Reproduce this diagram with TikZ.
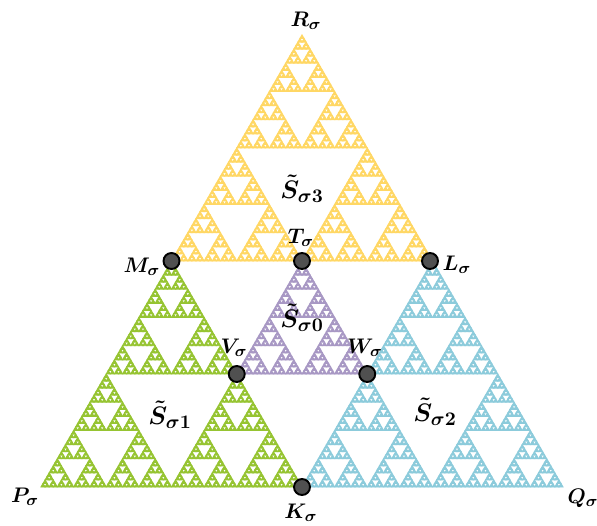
\documentclass[tikz,border=0pt]{standalone}
\usepackage{amsmath,amssymb}
\usepackage{bm}
\usepackage{xcolor}
\usepackage{tikz}
\usetikzlibrary{calc}

\definecolor{gasketyellow}{RGB}{255,215,100}
\definecolor{gasketgreen}{RGB}{150,196,50}
\definecolor{gasketcyan}{RGB}{140,203,219}
\definecolor{gasketpurple}{RGB}{168,152,196}
\definecolor{dotgray}{RGB}{80,80,80}

% depth, x, y (lower left corner), side
\newcommand{\sgasket}[4]{%
  \ifnum#1=0
    \filldraw (#2,#3) -- ({#2+#4},#3) -- ({#2+#4/2},{#3+0.8660254*#4}) -- cycle;
  \else
    \begingroup
      \pgfmathtruncatemacro\gdepth{#1-1}%
      \pgfmathsetmacro\gside{#4/2}%
      \pgfmathsetmacro\gxb{#2+#4/2}%
      \pgfmathsetmacro\gxc{#2+#4/4}%
      \pgfmathsetmacro\gyc{#3+0.4330127*#4}%
      \edef\gnext{%
        \noexpand\sgasket{\gdepth}{#2}{#3}{\gside}%
        \noexpand\sgasket{\gdepth}{\gxb}{#3}{\gside}%
        \noexpand\sgasket{\gdepth}{\gxc}{\gyc}{\gside}}%
      \gnext
    \endgroup
  \fi}

\tikzset{
  gasket/.style={
    fill=#1,
    draw=#1,
    line width=0.55pt,
    line join=miter
  },
  vertexdot/.style={
    shape = circle,
    draw = black,
    fill = dotgray,
    line width = 1.1pt,
    inner sep = 0pt,
    minimum size = 0.32cm
  },
  vertexlabel/.style={
    inner sep = 0pt,
    font=\fontsize{13}{15}\selectfont
  },
  piecelabel/.style={
    inner sep = 0pt,
    font=\fontsize{15.5}{17}\selectfont
  },
  every picture/.style = {
    x=0.02cm,
    y=0.02cm
  }
}

\begin{document}
\begin{tikzpicture}
  \useasboundingbox (0,0) rectangle (597,525);
  % the four pieces
  \begin{scope}[gasket=gasketyellow]
    \sgasket{6}{171.5}{264}{261}
  \end{scope}
  \begin{scope}[gasket=gasketgreen]
    \sgasket{6}{41}{38}{261}
  \end{scope}
  \begin{scope}[gasket=gasketcyan]
    \sgasket{6}{302}{38}{261}
  \end{scope}
  \begin{scope}[gasket=gasketpurple]
    \sgasket{5}{236.75}{151}{130.5}
  \end{scope}

  \node[vertexdot] (M) at (171.5,264) {};
  \node[vertexdot] (T) at (302,264) {};
  \node[vertexdot] (L) at (430,264) {};
  \node[vertexdot] (V) at (236.75,151) {};
  \node[vertexdot] (W) at (367.25,151) {};
  \node[vertexdot] (K) at (302,38) {};

  \node[vertexlabel] (Rlab) at (306,504) {$\boldsymbol{R_\sigma}$};
  \node[vertexlabel] (Tlab) at (301,287) {$\boldsymbol{T_\sigma}$};
  \node[vertexlabel] (Mlab) at (142,258) {$\boldsymbol{M_\sigma}$};
  \node[vertexlabel] (Llab) at (457,260) {$\boldsymbol{L_\sigma}$};
  \node[vertexlabel] (Vlab) at (234,177) {$\boldsymbol{V_\sigma}$};
  \node[vertexlabel] (Wlab) at (365,177) {$\boldsymbol{W_\sigma}$};
  \node[vertexlabel] (Plab) at (25,28) {$\boldsymbol{P_\sigma}$};
  \node[vertexlabel] (Qlab) at (583,27) {$\boldsymbol{Q_\sigma}$};
  \node[vertexlabel] (Klab) at (301,12) {$\boldsymbol{K_\sigma}$};

  \node[piecelabel] (S3) at (302,336) {$\boldsymbol{\tilde{S}_{\sigma 3}}$};
  \node[piecelabel] (S0) at (302,207) {$\boldsymbol{\tilde{S}_{\sigma 0}}$};
  \node[piecelabel] (S1) at (170,110) {$\boldsymbol{\tilde{S}_{\sigma 1}}$};
  \node[piecelabel] (S2) at (435,113) {$\boldsymbol{\tilde{S}_{\sigma 2}}$};
\end{tikzpicture}
\end{document}
